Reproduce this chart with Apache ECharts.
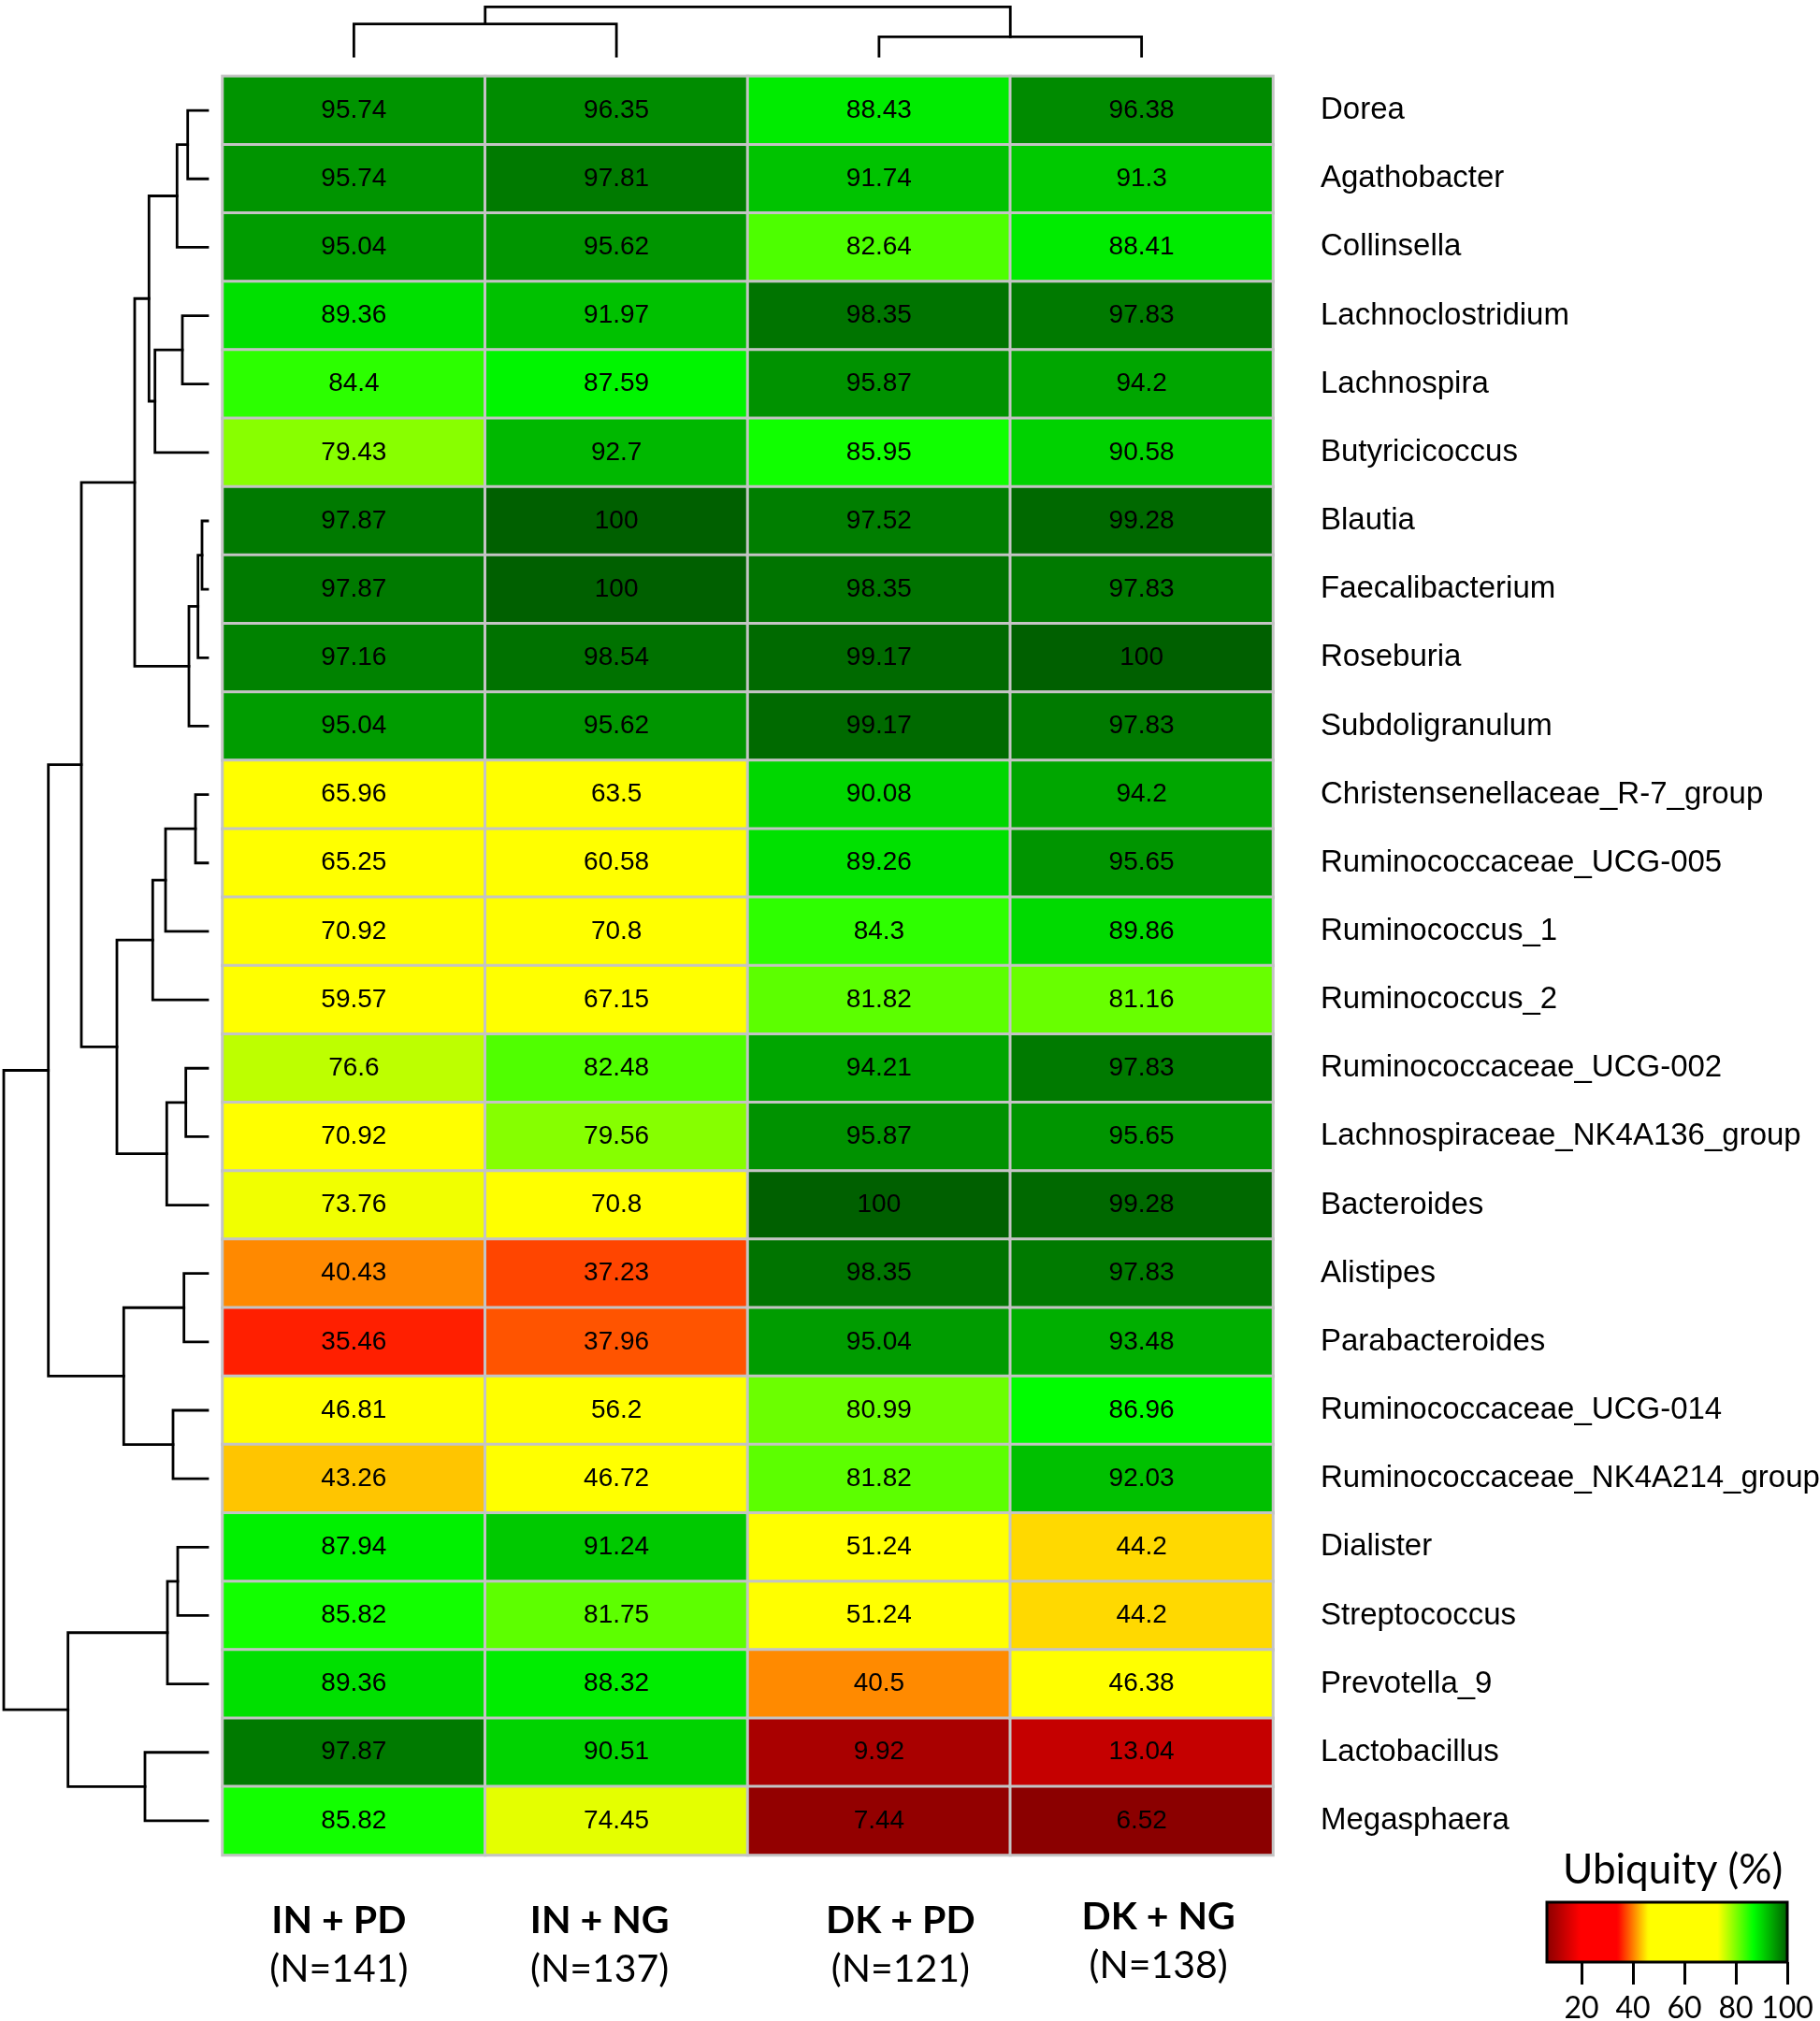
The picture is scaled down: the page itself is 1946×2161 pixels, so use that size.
<!DOCTYPE html>
<html><head><meta charset="utf-8">
<script src="https://cdn.jsdelivr.net/npm/echarts@6/dist/echarts.min.js"></script>
<style>html,body{margin:0;padding:0;background:#fff}#c{width:1946px;height:2161px}</style>
</head><body><div id="c"></div>
<script>
// ---------------- data ----------------
const genera = ['Dorea','Agathobacter','Collinsella','Lachnoclostridium','Lachnospira','Butyricicoccus',
  'Blautia','Faecalibacterium','Roseburia','Subdoligranulum','Christensenellaceae_R-7_group',
  'Ruminococcaceae_UCG-005','Ruminococcus_1','Ruminococcus_2','Ruminococcaceae_UCG-002',
  'Lachnospiraceae_NK4A136_group','Bacteroides','Alistipes','Parabacteroides','Ruminococcaceae_UCG-014',
  'Ruminococcaceae_NK4A214_group','Dialister','Streptococcus','Prevotella_9','Lactobacillus','Megasphaera'];
const groups = ['IN + PD','IN + NG','DK + PD','DK + NG'];
const groupN = [141,137,121,138];
const inPD = [95.74,95.74,95.04,89.36,84.4,79.43,97.87,97.87,97.16,95.04,65.96,65.25,70.92,59.57,76.6,70.92,73.76,40.43,35.46,46.81,43.26,87.94,85.82,89.36,97.87,85.82];
const inNG = [96.35,97.81,95.62,91.97,87.59,92.7,100,100,98.54,95.62,63.5,60.58,70.8,67.15,82.48,79.56,70.8,37.23,37.96,56.2,46.72,91.24,81.75,88.32,90.51,74.45];
const dkPD = [88.43,91.74,82.64,98.35,95.87,85.95,97.52,98.35,99.17,99.17,90.08,89.26,84.3,81.82,94.21,95.87,100,98.35,95.04,80.99,81.82,51.24,51.24,40.5,9.92,7.44];
const dkNG = [96.38,91.3,88.41,97.83,94.2,90.58,99.28,97.83,100,97.83,94.2,95.65,89.86,81.16,97.83,95.65,99.28,97.83,93.48,86.96,92.03,44.2,44.2,46.38,13.04,6.52];
// linkage: [childA, childB, height]; children < n are leaves, >= n are earlier merges (n + k)
const rowLinkage = [[0,1,21.3],[26,2,32.7],[3,4,27],[28,5,56.3],[27,29,62.7],[6,7,6],[31,8,10.3],[32,9,20],
  [30,33,78],[10,11,13],[35,12,45],[36,13,58.7],[14,15,23.3],[38,16,43.7],[37,39,97],[34,40,135],
  [17,18,25.3],[19,20,37],[42,43,89.7],[41,44,170.3],[21,22,32],[46,23,43],[24,25,67],[47,48,149.3],[45,49,218]];
const colLinkage = [[0,1,34.3],[2,3,20.7],[4,5,52.7]];
const legendTicks = [20,40,60,80,100];

// ---------------- build ----------------
const columns = [inPD,inNG,dkPD,dkNG];
const heatData = [];
columns.forEach((col,c)=>col.forEach((v,r)=>heatData.push([c,r,v])));
const allVals = heatData.map(d=>d[2]);
const vMin = Math.min(...allVals), vMax = Math.max(...allVals);

function dendroSegments(linkage, n){
  const pos=[], ht=[];
  for(let i=0;i<n;i++){pos[i]=i;ht[i]=0;}
  return linkage.map(([a,b,h],k)=>{
    pos[n+k]=(pos[a]+pos[b])/2; ht[n+k]=h;
    return [h,pos[a],ht[a],pos[b],ht[b]];
  });
}
const rowSegs = dendroSegments(rowLinkage, genera.length);
const colSegs = dendroSegments(colLinkage, groups.length);
const rowMaxH = Math.max(...rowLinkage.map(d=>d[2]));
const colMaxH = Math.max(...colLinkage.map(d=>d[2]));

// colour ramp (style)
const ramp = [[6.52,[139,0,0]],[19.5,[255,0,0]],[34,[255,0,0]],[46,[255,255,0]],[73,[255,255,0]],[86.8,[0,255,0]],[100,[0,96,0]]];
function rampColor(v){
  if(v<=ramp[0][0]) return ramp[0][1];
  for(let i=1;i<ramp.length;i++){
    if(v<=ramp[i][0]){
      const [v0,c0]=ramp[i-1],[v1,c1]=ramp[i];const t=(v-v0)/(v1-v0);
      return c0.map((x,j)=>Math.round(x+(c1[j]-x)*t));
    }
  }
  return ramp[ramp.length-1][1];
}
const rampColors=[];
for(let i=0;i<=200;i++){const c=rampColor(vMin+(vMax-vMin)*i/200);rampColors.push(`rgb(${c[0]},${c[1]},${c[2]})`);}

// layout (style)
const HM = {left:238, top:81.5, width:1123, height:1902};
const labelShiftX = [-16,-18,23,18];
const labelShiftY = [4,4,4,0];

const chart = echarts.init(document.getElementById('c'), null, {renderer:'canvas'});
const lineStyle = {stroke:'#000', lineWidth:2.8, fill:null, lineJoin:'miter', lineCap:'square'};
chart.setOption({
  backgroundColor:'#fff',
  animation:false,
  title:{text:'Ubiquity (%)', left:1671, top:1978, padding:0,
    textStyle:{fontFamily:'Lato', fontSize:44, fontWeight:'normal', color:'#000'}},
  grid:[
    {left:HM.left, top:HM.top, width:HM.width, height:HM.height, outerBoundsMode:'none', containLabel:false},
    {left:4, top:HM.top, width:218, height:HM.height, outerBoundsMode:'none'},
    {left:HM.left, top:7.3, width:HM.width, height:52.7, outerBoundsMode:'none'},
    {left:1654, top:2034, width:257, height:64, show:true, borderColor:'#000', borderWidth:3, backgroundColor:'transparent', z:10, outerBoundsMode:'none'}
  ],
  xAxis:[
    {type:'category', gridIndex:0, position:'bottom',
      data: groups.map((g,i)=>({value:g, textStyle:{padding:[labelShiftY[i], labelShiftX[i]<0?-2*labelShiftX[i]:0, 0, labelShiftX[i]>0?2*labelShiftX[i]:0]}})),
      axisLine:{show:false}, axisTick:{show:false},
      axisLabel:{margin:40, interval:0,
        formatter:(v,i)=>`{b|${v}}\n{n|(N=${groupN[i]})}`,
        rich:{b:{fontFamily:'Lato', fontWeight:'bold', fontSize:41, lineHeight:52, color:'#000'},
              n:{fontFamily:'Lato', fontSize:41, lineHeight:52, color:'#000'}}}},
    {type:'value', gridIndex:1, min:0, max:rowMaxH, inverse:true, show:false},
    {type:'value', gridIndex:2, min:-0.5, max:groups.length-0.5, show:false},
    {type:'value', gridIndex:3, min:vMin, max:vMax, axisLine:{show:false}, splitLine:{show:false},
      axisTick:{show:true, customValues:legendTicks, length:24, lineStyle:{color:'#000', width:3}},
      axisLabel:{customValues:legendTicks, margin:34, fontFamily:'Lato', fontSize:32, color:'#000'}}
  ],
  yAxis:[
    {type:'category', gridIndex:0, data:genera, inverse:true, position:'right',
      axisLine:{show:false}, axisTick:{show:false},
      axisLabel:{margin:51, interval:0, fontFamily:'Liberation Sans', fontSize:33, color:'#000', padding:[6,0,0,0]}},
    {type:'value', gridIndex:1, min:-0.5, max:genera.length-0.5, inverse:true, show:false},
    {type:'value', gridIndex:2, min:0, max:colMaxH, show:false},
    {type:'value', gridIndex:3, min:0, max:1, show:false}
  ],
  visualMap:{type:'continuous', min:vMin, max:vMax, seriesIndex:0, orient:'horizontal',
    left:1654, top:2034, itemWidth:64, itemHeight:257, padding:0, calculable:false, show:true,
    inRange:{color:rampColors}, hoverLink:false},
  series:[
    {type:'heatmap', xAxisIndex:0, yAxisIndex:0, data:heatData, silent:true,
      itemStyle:{borderColor:'#c4c4c4', borderWidth:3},
      label:{show:true, formatter:p=>String(p.value[2]), fontFamily:'Liberation Sans', fontSize:28, color:'#000', padding:[6,0,0,0]},
      emphasis:{disabled:true}},
    {type:'custom', xAxisIndex:1, yAxisIndex:1, data:rowSegs, clip:false, silent:true,
      renderItem:(p,api)=>{
        const h=api.value(0),ya=api.value(1),ha=api.value(2),yb=api.value(3),hb=api.value(4);
        return {type:'polyline', shape:{points:[api.coord([ha,ya]),api.coord([h,ya]),api.coord([h,yb]),api.coord([hb,yb])]}, style:lineStyle};
      }},
    {type:'custom', xAxisIndex:2, yAxisIndex:2, data:colSegs, clip:false, silent:true,
      renderItem:(p,api)=>{
        const h=api.value(0),xa=api.value(1),ha=api.value(2),xb=api.value(3),hb=api.value(4);
        return {type:'polyline', shape:{points:[api.coord([xa,ha]),api.coord([xa,h]),api.coord([xb,h]),api.coord([xb,hb])]}, style:lineStyle};
      }}
  ]
});
</script></body></html>
